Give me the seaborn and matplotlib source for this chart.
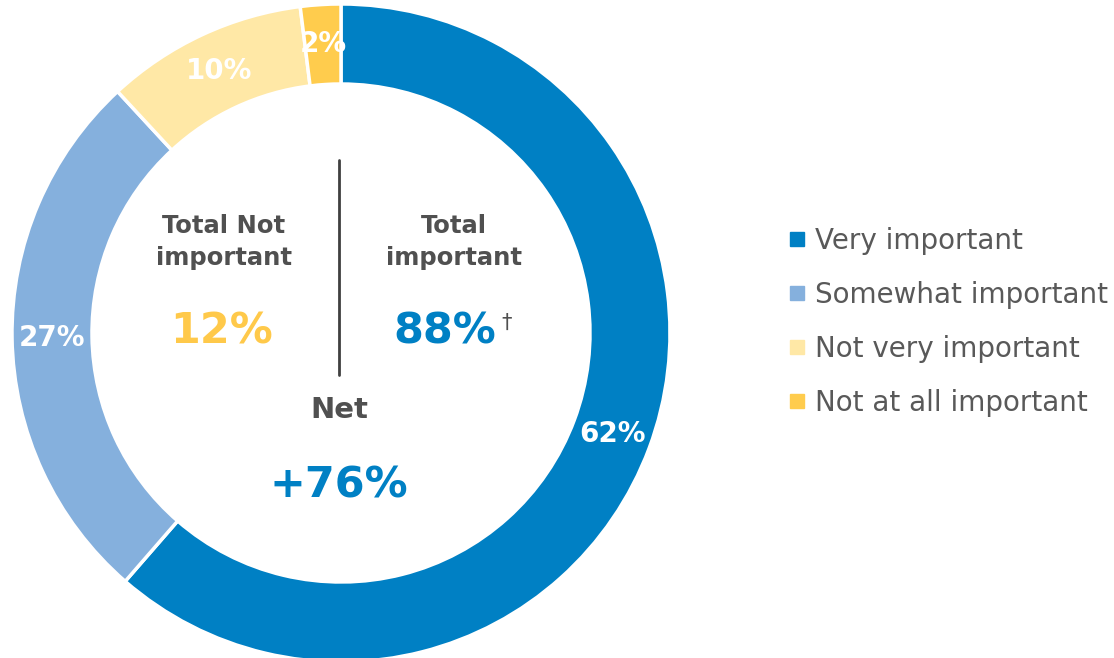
import matplotlib
matplotlib.use("Agg")
import matplotlib.pyplot as plt
import seaborn as sns
from matplotlib.lines import Line2D

categories = ["Very important", "Somewhat important", "Not very important", "Not at all important"]
values = [62, 27, 10, 2]
pct_labels = ["62%", "27%", "10%", "2%"]
colors = ["#0080C4", "#85B0DD", "#FFE8A6", "#FFCC4D"]

left_title = "Total Not\nimportant"
left_value = "12%"
right_title = "Total\nimportant"
right_value = "88%"
net_title = "Net"
net_value = "+76%"

sns.set_theme(style="white")
plt.rcParams['font.family'] = ['DejaVu Sans']
palette = sns.color_palette(colors)

W, H = 1114, 658
fig = plt.figure(figsize=(W / 100, H / 100), dpi=100)
ax = fig.add_axes([0, 0, 1, 1])

cx, cy, R = 341, H - 333, 329
it = iter(pct_labels)
wedges, _, autotexts = ax.pie(
    values, colors=palette, startangle=90, counterclock=False,
    center=(cx, cy), radius=R, autopct=lambda p: next(it), pctdistance=0.88,
    wedgeprops=dict(width=80, edgecolor="white", linewidth=2.5),
    textprops=dict(color="white", fontweight="bold", fontsize=20),
)
ax.set_xlim(0, W)
ax.set_ylim(0, H)
ax.set_aspect("equal")
ax.axis("off")

gray = "#505050"
blue = "#0080C4"
yellow = "#FFC94A"

def Y(y):
    return H - y

ax.text(224, Y(242), left_title, ha="center", va="center", fontsize=17.5,
        fontweight="bold", color=gray, linespacing=1.45)
ax.text(454, Y(242), right_title, ha="center", va="center", fontsize=17.5,
        fontweight="bold", color=gray, linespacing=1.45)
ax.text(222, Y(331), left_value, ha="center", va="center", fontsize=31,
        fontweight="bold", color=yellow)
ax.text(445, Y(331), right_value, ha="center", va="center", fontsize=31,
        fontweight="bold", color=blue)
ax.text(501, Y(323), "\u2020", ha="left", va="center", fontsize=15, color=gray)
ax.plot([339, 339], [Y(160), Y(375)], color="#404040", lw=2)
ax.text(339, Y(410), net_title, ha="center", va="center", fontsize=21,
        fontweight="bold", color=gray)
ax.text(339, Y(485), net_value, ha="center", va="center", fontsize=31,
        fontweight="bold", color=blue)

handles = [Line2D([0], [0], marker="s", linestyle="", markersize=10,
                  markerfacecolor=c, markeredgecolor=c) for c in palette]
leg = fig.legend(handles, categories, loc="center left", bbox_to_anchor=(775 / W, 1 - 322 / H),
                 frameon=False, fontsize=20, handletextpad=0.25, labelspacing=0.94,
                 handlelength=0.8, borderaxespad=0)
for t in leg.get_texts():
    t.set_color("#595959")

fig.savefig("out.png", dpi=100)
